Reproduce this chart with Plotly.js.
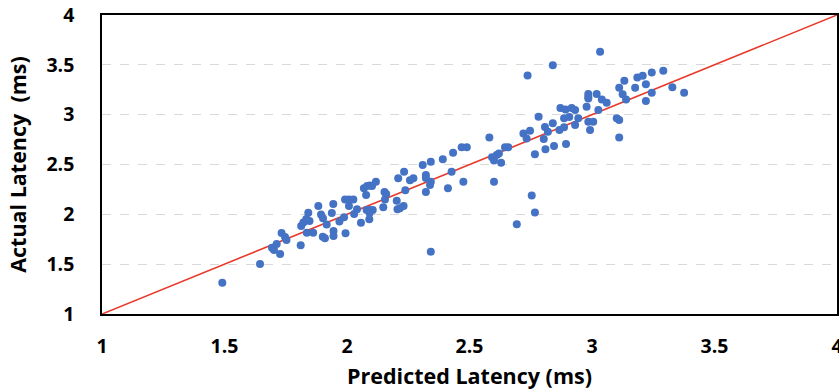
<!DOCTYPE html>
<html>
<head>
<meta charset="utf-8">
<script src="https://cdn.plot.ly/plotly-3.0.1.min.js"></script>
<style>html,body{margin:0;padding:0;background:#fff;}#chart{width:839px;height:390px;}</style>
</head>
<body>
<div id="chart"></div>
<script>
const predicted = [1.491,1.645,1.694,1.702,1.713,1.727,1.733,1.747,1.753,1.811,1.813,1.822,1.834,1.836,1.842,1.847,1.862,1.883,1.894,1.902,1.901,1.910,1.917,1.938,1.944,1.945,1.945,1.969,1.988,1.992,2.008,2.026,2.008,1.994,2.029,2.041,2.057,2.069,2.082,2.094,2.102,2.078,2.080,2.092,2.105,2.092,2.091,2.118,2.148,2.153,2.160,2.155,2.203,2.209,2.206,2.216,2.231,2.233,2.238,2.257,2.271,2.309,2.322,2.322,2.322,2.342,2.342,2.342,2.339,2.391,2.412,2.427,2.433,2.468,2.489,2.475,2.581,2.592,2.600,2.611,2.620,2.600,2.629,2.645,2.658,2.693,2.720,2.733,2.747,2.754,2.767,2.767,2.782,2.803,2.808,2.820,2.810,2.840,2.845,2.867,2.871,2.892,2.917,2.931,2.886,2.907,2.886,2.931,2.944,2.894,2.737,2.840,2.978,2.985,2.985,2.985,2.985,3.005,2.992,3.019,3.026,3.040,3.060,3.033,3.101,3.111,3.111,3.111,3.125,3.139,3.132,3.176,3.185,3.207,3.220,3.220,3.244,3.244,3.291,3.328,3.376];
const actual = [1.314,1.502,1.665,1.642,1.702,1.602,1.812,1.772,1.742,1.690,1.883,1.918,1.953,1.815,2.016,1.933,1.815,2.083,1.998,1.960,1.775,1.759,1.898,2.013,2.103,1.832,1.782,1.928,1.970,2.150,2.150,2.150,2.083,1.809,2.003,2.050,1.916,2.261,2.284,2.289,2.284,2.194,2.043,2.043,2.043,2.013,1.950,2.327,2.070,2.224,2.204,2.150,2.136,2.361,2.050,2.060,2.083,2.427,2.241,2.341,2.361,2.494,2.394,2.364,2.224,2.528,2.327,1.625,2.294,2.552,2.261,2.427,2.618,2.672,2.672,2.327,2.772,2.572,2.540,2.595,2.610,2.327,2.518,2.672,2.672,1.901,2.810,2.762,2.839,2.189,2.018,2.603,2.979,2.757,2.876,2.829,2.652,2.913,2.685,2.846,3.066,3.051,3.066,3.046,2.963,2.976,2.873,2.896,2.963,2.705,3.392,3.497,3.079,3.207,3.180,3.161,2.929,2.929,2.846,3.207,3.046,3.153,3.119,3.631,2.963,2.946,2.772,3.270,3.204,3.153,3.340,3.270,3.374,3.390,3.304,3.136,3.424,3.220,3.440,3.274,3.220];
const refLineX = [1, 4];
const refLineY = [1, 4];
const tickVals = [1, 1.5, 2, 2.5, 3, 3.5, 4];
const tickText = ['1', '1.5', '2', '2.5', '3', '3.5', '4'];

const fontFam = '"Open Sans", sans-serif';

const traces = [
  {x: refLineX, y: refLineY, mode: 'lines', type: 'scatter',
   line: {color: '#e8392a', width: 1.6}, hoverinfo: 'skip', showlegend: false},
  {x: predicted, y: actual, mode: 'markers', type: 'scatter',
   marker: {color: '#4472c4', size: 8}, showlegend: false}
];

const layout = {
  width: 839, height: 390,
  margin: {l: 102, r: 2, t: 15, b: 76},
  paper_bgcolor: '#ffffff', plot_bgcolor: '#ffffff',
  font: {family: fontFam, color: '#000000'},
  showlegend: false,
  xaxis: {
    range: [1, 4], tickvals: tickVals, ticktext: tickText,
    showgrid: false, zeroline: false,
    showline: true, linecolor: '#000000', linewidth: 1.8, mirror: true,
    ticks: '', ticklabelstandoff: 14, ticklabeloverflow: 'allow',
    tickfont: {family: fontFam, size: 19.5, weight: 700, color: '#000'},
    title: {text: 'Predicted Latency (ms)', font: {family: fontFam, size: 21.5, weight: 700, color: '#000'}, standoff: 12}
  },
  yaxis: {
    range: [1, 4], tickvals: tickVals, ticktext: tickText,
    showgrid: true, gridcolor: '#d9d9d9', griddash: 'dash', gridwidth: 1.2,
    zeroline: false,
    showline: true, linecolor: '#000000', linewidth: 1.8, mirror: true,
    ticks: '', ticklabelstandoff: 22, ticklabeloverflow: 'allow',
    tickfont: {family: fontFam, size: 19.5, weight: 700, color: '#000'},
    title: {text: 'Actual Latency\u00a0\u00a0(ms)', font: {family: fontFam, size: 21.5, weight: 700, color: '#000'}, standoff: 14}
  }
};

Plotly.newPlot('chart', traces, layout, {displayModeBar: false, staticPlot: true});
</script>
</body>
</html>
